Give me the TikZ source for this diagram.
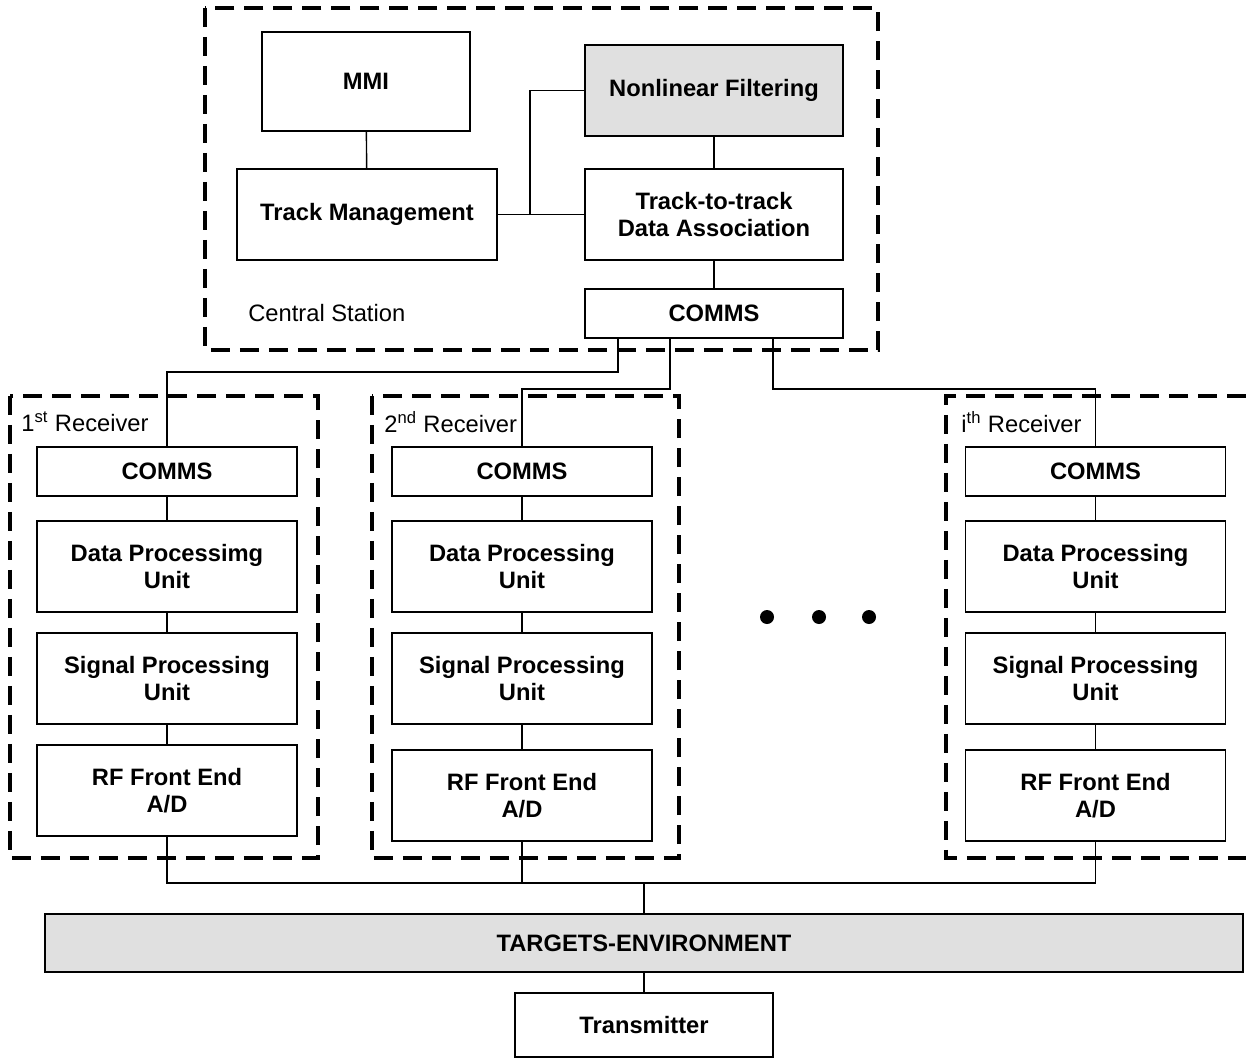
\documentclass[tikz,border=0pt]{standalone}
\usepackage{fontspec}
\setmainfont{Liberation Sans}
\usepackage{xcolor}
\usepackage{tikz}
\usetikzlibrary{positioning}
\definecolor{cgrey}{HTML}{E0E0E0}
\tikzset{
  unitbox/.style={draw, line width=1.1pt, align=center, minimum width=5.2cm,
    minimum height=1.82cm, inner sep=0pt, font=\fontsize{13.5}{15.5}\selectfont\bfseries},
  commsbox/.style={unitbox, minimum height=0.98cm},
  greybox/.style={unitbox, fill=cgrey},
  linkline/.style={line width=0.8pt},
  stationframe/.style={line width=2pt, dash pattern=on 11pt off 5.5pt},
  framelabel/.style={anchor=west, inner sep=0pt, font=\fontsize{13.5}{15.5}\selectfont}
}

\begin{document}
\begin{tikzpicture}[node distance=0.46cm]
    \useasboundingbox (0,0) rectangle (24.92,-21.22);

    % central station
    \draw[stationframe] (4.1,-0.16) rectangle (17.56,-7.0);
    \node[unitbox, minimum width=4.16cm, minimum height=1.98cm] (mmi) at (7.32,-1.63) {MMI};
    \node[unitbox] (trackmgmt) at (7.34,-4.29) {Track Management};
    \node[greybox, minimum width=5.16cm] (filter) at (14.28,-1.81) {Nonlinear Filtering};
    \node[unitbox, minimum width=5.16cm] (assoc) at (14.28,-4.29) {Track-to-track\\Data Association};
    \node[commsbox, minimum width=5.16cm] (ccomms) at (14.28,-6.27) {COMMS};
    \node[framelabel] (central) at (4.96,-6.26) {Central Station};

    \draw[linkline] (mmi) -- (trackmgmt);
    \draw[linkline] (trackmgmt) -- (assoc);
    \draw[linkline] (trackmgmt.east -| 10.6,0) |- (filter.west);
    \draw[linkline] (filter) -- (assoc);
    \draw[linkline] (assoc) -- (ccomms);

    % receivers
    \draw[stationframe] (0.2,-7.92) rectangle (6.36,-17.16);
    \draw[stationframe] (7.44,-7.92) rectangle (13.58,-17.16);
    \draw[stationframe] (24.92,-7.92) -- (18.92,-7.92) -- (18.92,-17.16) -- (24.92,-17.16);
    \node[framelabel] (lab1) at (0.42,-8.44) {1\textsuperscript{st} Receiver};
    \node[framelabel] (lab2) at (7.68,-8.44) {2\textsuperscript{nd} Receiver};
    \node[framelabel] (labi) at (19.22,-8.44) {i\textsuperscript{th} Receiver};

    \node[commsbox] (r1comms) at (3.34,-9.43) {COMMS};
    \node[unitbox, below=of r1comms] (r1data) {Data Processimg\\Unit};
    \node[unitbox, below=0.38cm of r1data] (r1signal) {Signal Processing\\Unit};
    \node[unitbox, below=0.38cm of r1signal] (r1rf) {RF Front End\\A/D};

    \node[commsbox] (r2comms) at (10.44,-9.43) {COMMS};
    \node[unitbox, below=of r2comms] (r2data) {Data Processing\\Unit};
    \node[unitbox, below=0.38cm of r2data] (r2signal) {Signal Processing\\Unit};
    \node[unitbox, below=0.48cm of r2signal] (r2rf) {RF Front End\\A/D};

    \node[commsbox] (ricomms) at (21.91,-9.43) {COMMS};
    \node[unitbox, below=of ricomms] (ridata) {Data Processing\\Unit};
    \node[unitbox, below=0.38cm of ridata] (risignal) {Signal Processing\\Unit};
    \node[unitbox, below=0.48cm of risignal] (rirf) {RF Front End\\A/D};

    \draw[linkline] (r1comms) -- (r1data) -- (r1signal) -- (r1rf);
    \draw[linkline] (r2comms) -- (r2data) -- (r2signal) -- (r2rf);
    \draw[linkline] (ricomms) -- (ridata) -- (risignal) -- (rirf);

    \fill (15.34,-12.34) circle (0.14);
    \fill (16.38,-12.34) circle (0.14);
    \fill (17.38,-12.34) circle (0.14);

    % links to central comms
    \draw[linkline] ([xshift=-1.92cm]ccomms.south) -- ++(0,-0.66) -| (r1comms.north);
    \draw[linkline] ([xshift=-0.88cm]ccomms.south) -- ++(0,-1.0) -| (r2comms.north);
    \draw[linkline] ([xshift=1.18cm]ccomms.south) -- ++(0,-1.0) -| (ricomms.north);

    % environment
    \node[greybox, minimum width=23.96cm, minimum height=1.16cm] (targets) at (12.88,-18.86) {TARGETS-ENVIRONMENT};
    \node[unitbox, minimum width=5.16cm, minimum height=1.28cm] (transmitter) at (12.88,-20.5) {Transmitter};
    \coordinate (bus) at (12.88,-17.66);

    \draw[linkline] (r1rf.south) |- (bus);
    \draw[linkline] (rirf.south) |- (bus);
    \draw[linkline] (r2rf.south) -- (r2rf.south |- bus);
    \draw[linkline] (bus) -- (targets);
    \draw[linkline] (targets) -- (transmitter);
  \end{tikzpicture}
\end{document}
